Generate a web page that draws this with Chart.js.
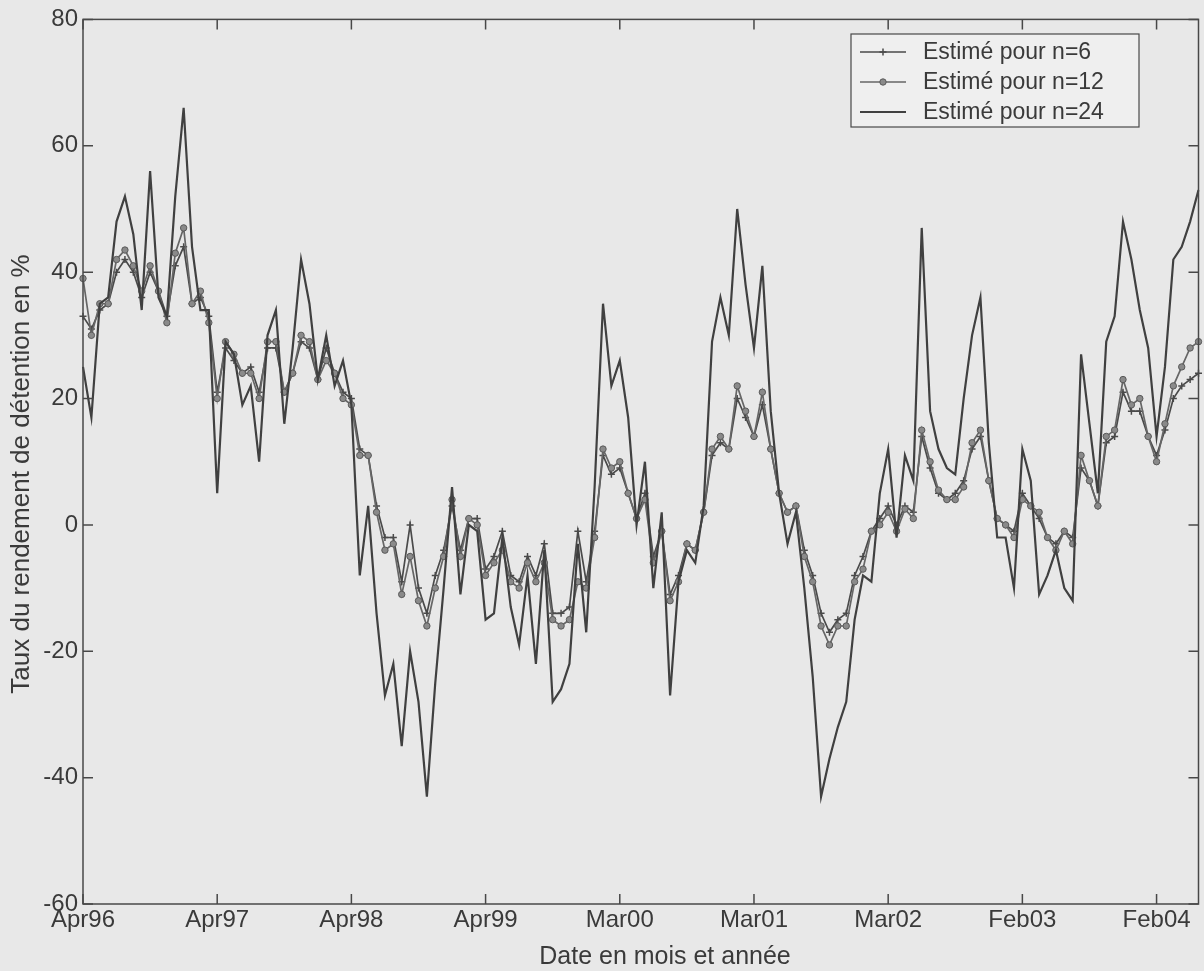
<!DOCTYPE html>
<html>
<head>
<meta charset="utf-8">
<title>Taux du rendement de détention</title>
<script src="https://cdn.jsdelivr.net/npm/chart.js@4.4.1/dist/chart.umd.min.js"></script>
<style>
  html, body { margin: 0; padding: 0; background: #e8e8e8; }
  #wrap { width: 1204px; height: 971px; }
</style>
</head>
<body>
<div id="wrap"><canvas id="data-Chart" width="1204" height="971"></canvas></div>
<script>
// tick labels on the date axis, one every 16 points
var tickLabels = ['Apr96', 'Apr97', 'Apr98', 'Apr99', 'Mar00', 'Mar01', 'Mar02', 'Feb03', 'Feb04'];
var tickEvery = 16;
var seriesNames = ['Estimé pour n=6', 'Estimé pour n=12', 'Estimé pour n=24'];

// values (in %)
var n6 = [
  33, 31, 34, 35, 40, 42, 40, 36, 40, 37, 33, 41, 44, 35, 36, 33,
  21, 28, 26, 24, 25, 21, 28, 28, 21, 24, 29, 28, 23, 28, 24, 21,
  20, 12, 11, 3, -2, -2, -9, 0, -10, -14, -8, -4, 3, -4, 1, 1,
  -7, -5, -1, -8, -9, -5, -8, -3, -14, -14, -13, -1, -9, -1, 11, 8,
  9, 5, 1, 5, -5, -1, -11, -8, -3, -4, 2, 11, 13, 12, 20, 17,
  14, 19, 12, 5, 2, 3, -4, -8, -14, -17, -15, -14, -8, -5, -1, 1,
  3, 0, 3, 2, 14, 9, 5, 4, 5, 7, 12, 14, 7, 1, 0, -1,
  5, 3, 1, -2, -3, -1, -2, 9, 7, 3, 13, 14, 21, 18, 18, 14,
  11, 15, 20, 22, 23, 24
];
var n12 = [
  39, 30, 35, 35, 42, 43.5, 41, 37, 41, 37, 32, 43, 47, 35, 37, 32,
  20, 29, 27, 24, 24, 20, 29, 29, 21, 24, 30, 29, 23, 26, 24, 20,
  19, 11, 11, 2, -4, -3, -11, -5, -12, -16, -10, -5, 4, -5, 1, 0,
  -8, -6, -4, -9, -10, -6, -9, -6, -15, -16, -15, -9, -10, -2, 12, 9,
  10, 5, 1, 4, -6, -1, -12, -9, -3, -4, 2, 12, 14, 12, 22, 18,
  14, 21, 12, 5, 2, 3, -5, -9, -16, -19, -16, -16, -9, -7, -1, 0,
  2, -1, 2.5, 1, 15, 10, 5.5, 4, 4, 6, 13, 15, 7, 1, 0, -2,
  4, 3, 2, -2, -4, -1, -3, 11, 7, 3, 14, 15, 23, 19, 20, 14,
  10, 16, 22, 25, 28, 29
];
var n24 = [
  25, 17, 35, 36, 48, 52, 46, 34, 56, 36, 33, 52, 66, 44, 34, 34,
  5, 29, 27, 19, 22, 10, 30, 34, 16, 28, 42, 35, 23, 30, 22, 26,
  19, -8, 3, -14, -27, -22, -35, -20, -28, -43, -25, -10, 6, -11, 0, -1,
  -15, -14, -2, -13, -19, -8, -22, -4, -28, -26, -22, -3, -17, 6, 35, 22,
  26, 17, 0, 10, -10, 2, -27, -9, -4, -6, 3, 29, 36, 30, 50, 38,
  28, 41, 18, 5, -3, 2, -10, -24, -43, -37, -32, -28, -15, -8, -9, 5,
  12, -2, 11, 7, 47, 18, 12, 9, 8, 20, 30, 36, 13, -2, -2, -10,
  12, 7, -11, -8, -4, -10, -12, 27, 16, 5, 29, 33, 48, 42, 34, 28,
  14, 25, 42, 44, 48, 53
];

// category labels: a date name every 16 points
var labels = [];
for (var i = 0; i < n24.length; i++) {
    labels.push(i % tickEvery === 0 ? tickLabels[i / tickEvery] : '');
}

var inkColor = '#3a3a3a';
var fontFamily = '"Liberation Sans", Arial, sans-serif';

// frame, inward ticks, axis titles and legend in the matlab look
var matlabLook = {
    id: 'matlabLook',
    beforeDraw: function(chart) {
        var ctx = chart.ctx;
        ctx.save();
        ctx.fillStyle = '#e8e8e8';
        ctx.fillRect(0, 0, chart.width, chart.height);
        ctx.restore();
    },
    afterDraw: function(chart) {
        var ctx = chart.ctx;
        var a = chart.chartArea;
        var xs = chart.scales.x;
        var ys = chart.scales.y;

        ctx.save();
        ctx.strokeStyle = '#484848';
        ctx.lineWidth = 1.5;
        ctx.strokeRect(a.left, a.top, a.right - a.left, a.bottom - a.top);

        ctx.beginPath();
        ys.ticks.forEach(function(t) {
            var py = ys.getPixelForValue(t.value);
            ctx.moveTo(a.left, py); ctx.lineTo(a.left + 10, py);
            ctx.moveTo(a.right, py); ctx.lineTo(a.right - 10, py);
        });
        xs.ticks.forEach(function(t) {
            var px = xs.getPixelForValue(t.value);
            ctx.moveTo(px, a.bottom); ctx.lineTo(px, a.bottom - 10);
            ctx.moveTo(px, a.top); ctx.lineTo(px, a.top + 10);
        });
        ctx.stroke();

        // axis titles
        ctx.fillStyle = inkColor;
        ctx.textAlign = 'center';
        ctx.textBaseline = 'middle';
        ctx.font = '25px ' + fontFamily;
        ctx.fillText('Date en mois et année', 665, 957);
        ctx.font = '26px ' + fontFamily;
        ctx.translate(22, 474);
        ctx.rotate(-Math.PI / 2);
        ctx.fillText('Taux du rendement de détention en %', 0, 0);
        ctx.restore();

        // legend box
        ctx.save();
        ctx.fillStyle = '#efefef';
        ctx.strokeStyle = '#484848';
        ctx.lineWidth = 1.2;
        ctx.fillRect(851, 34, 288, 93);
        ctx.strokeRect(851, 34, 288, 93);
        var rows = [52, 82, 112];
        chart.data.datasets.forEach(function(ds, k) {
            var y = rows[k];
            ctx.strokeStyle = ds.borderColor;
            ctx.lineWidth = ds.borderWidth;
            ctx.beginPath();
            ctx.moveTo(860, y); ctx.lineTo(906, y);
            ctx.stroke();
            if (ds.pointRadius > 0) {
                ctx.fillStyle = ds.pointBackgroundColor;
                ctx.strokeStyle = ds.pointBorderColor;
                ctx.lineWidth = ds.pointBorderWidth;
                ctx.beginPath();
                if (ds.pointStyle === 'circle') {
                    ctx.arc(883, y, ds.pointRadius, 0, Math.PI * 2);
                    ctx.fill();
                    ctx.stroke();
                } else {
                    ctx.moveTo(883 - ds.pointRadius, y); ctx.lineTo(883 + ds.pointRadius, y);
                    ctx.moveTo(883, y - ds.pointRadius); ctx.lineTo(883, y + ds.pointRadius);
                    ctx.stroke();
                }
            }
            ctx.fillStyle = inkColor;
            ctx.font = '23px ' + fontFamily;
            ctx.textAlign = 'left';
            ctx.textBaseline = 'middle';
            ctx.fillText(ds.label, 923, y + 1);
        });
        ctx.restore();
    }
};

new Chart('data-Chart', {
    type: 'line',
    data: {
        labels: labels,
        datasets: [{
            label: seriesNames[0],
            data: n6,
            borderColor: '#4a4a4a',
            borderWidth: 1.7,
            pointStyle: 'cross',
            pointRadius: 3.5,
            pointBorderWidth: 1.5,
            pointBackgroundColor: '#4a4a4a',
            pointBorderColor: '#4a4a4a',
            tension: 0,
            order: 2
        }, {
            label: seriesNames[1],
            data: n12,
            borderColor: '#666666',
            borderWidth: 1.7,
            pointStyle: 'circle',
            pointRadius: 3.2,
            pointBorderWidth: 1,
            pointBackgroundColor: '#8a8a8a',
            pointBorderColor: '#5a5a5a',
            tension: 0,
            order: 1
        }, {
            label: seriesNames[2],
            data: n24,
            borderColor: '#404040',
            borderWidth: 2.2,
            pointStyle: 'circle',
            pointRadius: 0,
            pointBorderWidth: 0,
            pointBackgroundColor: '#404040',
            pointBorderColor: '#404040',
            tension: 0,
            order: 0
        }]
    },
    options: {
        responsive: false,
        animation: false,
        devicePixelRatio: 1,
        layout: { padding: { top: 17, right: 5, left: 0, bottom: 0 } },
        plugins: {
            legend: { display: false },
            tooltip: { enabled: false }
        },
        scales: {
            x: {
                type: 'category',
                offset: false,
                grid: { display: false, drawTicks: false },
                border: { display: false },
                afterBuildTicks: function(scale) {
                    scale.ticks = scale.ticks.filter(function(t) { return t.value % tickEvery === 0; });
                },
                afterFit: function(scale) { scale.height = 67; },
                ticks: {
                    autoSkip: false,
                    maxRotation: 0,
                    padding: 2,
                    color: inkColor,
                    font: { family: fontFamily, size: 24 },
                    callback: function(value) { return labels[value]; }
                }
            },
            y: {
                min: -60,
                max: 80,
                grid: { display: false, drawTicks: false },
                border: { display: false },
                afterFit: function(scale) { scale.width = 83; },
                ticks: {
                    stepSize: 20,
                    padding: 5,
                    color: inkColor,
                    font: { family: fontFamily, size: 24 }
                }
            }
        }
    },
    plugins: [matlabLook]
});
</script>
</body>
</html>
